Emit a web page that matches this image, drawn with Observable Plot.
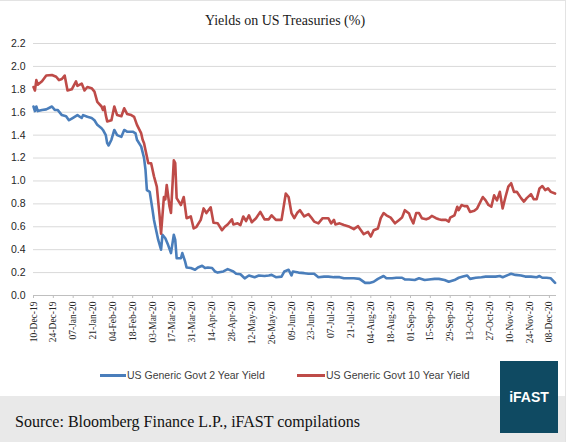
<!DOCTYPE html>
<html><head><meta charset="utf-8">
<script src="https://cdn.jsdelivr.net/npm/d3@7"></script>
<script src="https://cdn.jsdelivr.net/npm/@observablehq/plot@0.6"></script>
<style>
body{margin:0;background:#fff;}
#wrap{position:relative;width:570px;height:442px;overflow:hidden;background:#fff;}
#panel{position:absolute;left:0;top:0;width:566px;height:442px;border-top:1px solid #e3e3e3;border-right:1px solid #e3e3e3;box-sizing:border-box;}
#title{position:absolute;left:0;width:570px;top:12px;text-align:center;font-family:"Liberation Serif",serif;font-size:14px;line-height:18px;color:#1a1a1a;}
#chart{position:absolute;left:0;top:0;}
.lg{position:absolute;top:368px;font-family:"Liberation Sans",Arial,sans-serif;font-size:10.5px;line-height:14px;color:#404040;white-space:nowrap;}
.sw{position:absolute;top:374px;height:3px;}
#footer{position:absolute;left:0;top:396px;width:565px;height:46px;background:#e9e9e9;}
#source{position:absolute;left:15px;top:412px;font-family:"Liberation Serif",serif;font-size:16px;line-height:19px;color:#111;white-space:nowrap;}
#logo{position:absolute;left:500px;top:361px;width:58px;height:72px;background:#0f4a62;color:#fff;font-family:"Liberation Sans",Arial,sans-serif;font-weight:bold;font-size:14px;display:flex;align-items:center;justify-content:center;}
</style>
</head><body>
<div id="wrap">
  <div id="panel"></div>
  <div id="footer"></div>
  <div id="title"></div>
  <div id="chart"></div>
  <div class="sw" id="sw1"></div><div class="lg" id="lg1"></div>
  <div class="sw" id="sw2"></div><div class="lg" id="lg2"></div>
  <div id="source"></div>
  <div id="logo"></div>
</div>
<script>
const titleText = "Yields on US Treasuries (%)";
const sourceText = "Source: Bloomberg Finance L.P., iFAST compilations";
const logoText = "iFAST";
const seriesNames = ["US Generic Govt 2 Year Yield", "US Generic Govt 10 Year Yield"];
const seriesColors = ["#4a7ebb", "#be4b48"];
const yTicks = [0, 0.2, 0.4, 0.6, 0.8, 1.0, 1.2, 1.4, 1.6, 1.8, 2.0, 2.2];
const xDomain = ["2019-12-10", "2020-12-13"];
const xTicks = ["2019-12-10","2019-12-24","2020-01-07","2020-01-21","2020-02-04","2020-02-18","2020-03-03","2020-03-17","2020-03-31","2020-04-14","2020-04-28","2020-05-12","2020-05-26","2020-06-09","2020-06-23","2020-07-07","2020-07-21","2020-08-04","2020-08-18","2020-09-01","2020-09-15","2020-09-29","2020-10-13","2020-10-27","2020-11-10","2020-11-24","2020-12-08"];

const twoYear = [
["2019-12-10",1.65],["2019-12-11",1.61],["2019-12-12",1.65],["2019-12-13",1.61],["2019-12-16",1.62],["2019-12-19",1.625],["2019-12-23",1.65],["2019-12-25",1.62],["2019-12-27",1.62],["2019-12-30",1.575],
["2020-01-02",1.565],["2020-01-04",1.53],["2020-01-06",1.545],["2020-01-08",1.56],["2020-01-10",1.575],["2020-01-13",1.55],["2020-01-14",1.575],["2020-01-17",1.56],["2020-01-20",1.55],["2020-01-22",1.53],["2020-01-24",1.49],["2020-01-27",1.46],["2020-01-28",1.445],["2020-01-30",1.40],["2020-01-31",1.33],
["2020-02-01",1.31],["2020-02-03",1.36],["2020-02-05",1.445],["2020-02-07",1.40],["2020-02-10",1.385],["2020-02-12",1.445],["2020-02-14",1.43],["2020-02-18",1.43],["2020-02-20",1.415],["2020-02-21",1.36],["2020-02-24",1.30],["2020-02-26",1.20],["2020-02-27",1.10],["2020-02-28",0.92],
["2020-03-01",0.905],["2020-03-03",0.745],["2020-03-04",0.66],["2020-03-05",0.60],["2020-03-07",0.485],["2020-03-09",0.40],["2020-03-10",0.53],["2020-03-12",0.50],["2020-03-14",0.44],["2020-03-16",0.37],["2020-03-18",0.53],["2020-03-19",0.485],["2020-03-20",0.325],["2020-03-23",0.325],["2020-03-24",0.37],["2020-03-26",0.295],["2020-03-27",0.245],["2020-03-30",0.24],
["2020-04-02",0.225],["2020-04-04",0.245],["2020-04-07",0.26],["2020-04-09",0.24],["2020-04-11",0.245],["2020-04-14",0.24],["2020-04-16",0.21],["2020-04-18",0.20],["2020-04-22",0.21],["2020-04-25",0.23],["2020-04-29",0.21],
["2020-05-01",0.19],["2020-05-04",0.185],["2020-05-07",0.15],["2020-05-10",0.175],["2020-05-14",0.16],["2020-05-17",0.175],["2020-05-21",0.17],["2020-05-24",0.175],["2020-05-26",0.18],["2020-05-29",0.16],
["2020-06-02",0.165],["2020-06-04",0.21],["2020-06-07",0.225],["2020-06-09",0.175],["2020-06-10",0.21],["2020-06-14",0.20],["2020-06-18",0.195],["2020-06-21",0.19],["2020-06-25",0.19],["2020-06-28",0.16],
["2020-07-02",0.165],["2020-07-05",0.165],["2020-07-09",0.16],["2020-07-13",0.16],["2020-07-16",0.15],["2020-07-20",0.15],["2020-07-23",0.15],["2020-07-27",0.145],["2020-07-31",0.11],
["2020-08-03",0.11],["2020-08-06",0.12],["2020-08-09",0.145],["2020-08-13",0.17],["2020-08-15",0.15],["2020-08-19",0.15],["2020-08-22",0.155],["2020-08-26",0.155],["2020-08-28",0.14],["2020-08-31",0.14],
["2020-09-04",0.135],["2020-09-07",0.15],["2020-09-11",0.135],["2020-09-14",0.14],["2020-09-18",0.145],["2020-09-21",0.145],["2020-09-25",0.135],["2020-09-28",0.12],
["2020-10-02",0.135],["2020-10-05",0.155],["2020-10-08",0.165],["2020-10-11",0.175],["2020-10-13",0.145],["2020-10-17",0.155],["2020-10-21",0.16],["2020-10-24",0.165],["2020-10-28",0.165],["2020-10-31",0.165],
["2020-11-03",0.17],["2020-11-05",0.16],["2020-11-09",0.18],["2020-11-11",0.19],["2020-11-14",0.18],["2020-11-18",0.175],["2020-11-21",0.165],["2020-11-25",0.165],["2020-11-29",0.16],
["2020-12-01",0.17],["2020-12-03",0.155],["2020-12-06",0.155],["2020-12-09",0.15],["2020-12-12",0.11]
];

const tenYear = [
["2019-12-10",1.82],["2019-12-11",1.79],["2019-12-12",1.88],["2019-12-13",1.84],["2019-12-16",1.87],["2019-12-19",1.92],["2019-12-23",1.925],["2019-12-26",1.91],["2019-12-28",1.88],["2019-12-30",1.89],
["2020-01-01",1.92],["2020-01-03",1.79],["2020-01-06",1.80],["2020-01-09",1.87],["2020-01-10",1.83],["2020-01-13",1.85],["2020-01-15",1.79],["2020-01-17",1.82],["2020-01-20",1.81],["2020-01-22",1.78],["2020-01-24",1.69],["2020-01-27",1.65],["2020-01-28",1.62],["2020-01-29",1.65],["2020-01-30",1.575],["2020-01-31",1.52],
["2020-02-03",1.53],["2020-02-05",1.65],["2020-02-07",1.575],["2020-02-10",1.565],["2020-02-12",1.635],["2020-02-14",1.585],["2020-02-17",1.575],["2020-02-19",1.56],["2020-02-21",1.49],["2020-02-24",1.415],["2020-02-25",1.36],["2020-02-26",1.33],["2020-02-27",1.27],["2020-02-29",1.155],
["2020-03-02",1.155],["2020-03-04",1.04],["2020-03-06",0.95],["2020-03-08",0.69],["2020-03-09",0.54],["2020-03-11",0.86],["2020-03-12",0.84],["2020-03-13",0.965],["2020-03-15",0.775],["2020-03-16",0.72],["2020-03-18",1.18],["2020-03-19",1.155],["2020-03-20",0.85],["2020-03-23",0.79],["2020-03-25",0.86],["2020-03-27",0.675],["2020-03-30",0.69],
["2020-04-01",0.585],["2020-04-03",0.60],["2020-04-06",0.66],["2020-04-08",0.76],["2020-04-10",0.72],["2020-04-13",0.77],["2020-04-15",0.635],["2020-04-18",0.63],["2020-04-21",0.57],["2020-04-23",0.60],["2020-04-25",0.62],["2020-04-28",0.665],["2020-04-29",0.62],
["2020-05-02",0.63],["2020-05-04",0.615],["2020-05-06",0.69],["2020-05-08",0.65],["2020-05-10",0.70],["2020-05-12",0.64],["2020-05-15",0.675],["2020-05-18",0.73],["2020-05-21",0.665],["2020-05-24",0.665],["2020-05-26",0.70],["2020-05-29",0.66],
["2020-06-02",0.66],["2020-06-05",0.89],["2020-06-07",0.86],["2020-06-09",0.72],["2020-06-11",0.675],["2020-06-13",0.72],["2020-06-15",0.745],["2020-06-18",0.69],["2020-06-21",0.71],["2020-06-23",0.68],["2020-06-25",0.645],["2020-06-28",0.63],
["2020-07-01",0.675],["2020-07-05",0.675],["2020-07-07",0.63],["2020-07-09",0.66],["2020-07-10",0.62],["2020-07-13",0.63],["2020-07-16",0.615],["2020-07-20",0.60],["2020-07-23",0.58],["2020-07-26",0.605],["2020-07-28",0.57],["2020-07-30",0.535],
["2020-08-02",0.555],["2020-08-04",0.515],["2020-08-06",0.57],["2020-08-09",0.585],["2020-08-11",0.675],["2020-08-13",0.72],["2020-08-15",0.70],["2020-08-18",0.68],["2020-08-21",0.63],["2020-08-24",0.66],["2020-08-26",0.68],["2020-08-28",0.745],["2020-08-31",0.715],
["2020-09-01",0.68],["2020-09-03",0.63],["2020-09-05",0.72],["2020-09-07",0.72],["2020-09-09",0.675],["2020-09-12",0.665],["2020-09-14",0.675],["2020-09-16",0.695],["2020-09-19",0.675],["2020-09-21",0.665],["2020-09-23",0.66],["2020-09-26",0.66],["2020-09-28",0.645],["2020-09-29",0.68],
["2020-10-02",0.70],["2020-10-04",0.775],["2020-10-05",0.745],["2020-10-07",0.79],["2020-10-09",0.78],["2020-10-11",0.78],["2020-10-13",0.73],["2020-10-16",0.74],["2020-10-18",0.76],["2020-10-22",0.86],["2020-10-24",0.83],["2020-10-26",0.79],["2020-10-28",0.775],["2020-10-30",0.875],
["2020-11-01",0.83],["2020-11-03",0.905],["2020-11-05",0.76],["2020-11-07",0.86],["2020-11-09",0.95],["2020-11-11",0.98],["2020-11-13",0.905],["2020-11-15",0.905],["2020-11-18",0.85],["2020-11-20",0.82],["2020-11-22",0.85],["2020-11-25",0.885],["2020-11-27",0.84],["2020-11-29",0.84],
["2020-12-01",0.935],["2020-12-03",0.955],["2020-12-05",0.92],["2020-12-07",0.935],["2020-12-09",0.905],["2020-12-12",0.89]
];

const parse = d3.utcParse("%Y-%m-%d");
const toRows = arr => arr.map(([d, v]) => ({date: parse(d), value: v}));

const chart = Plot.plot({
  width: 570,
  height: 359,
  marginLeft: 33,
  marginRight: 14,
  marginTop: 43,
  marginBottom: 64,
  style: {background: "transparent", fontFamily: "'Liberation Sans', Arial, sans-serif", overflow: "visible"},
  x: {type: "utc", domain: xDomain.map(parse), label: null},
  y: {domain: [0, 2.2], label: null},
  marks: [
    Plot.gridY(yTicks.slice(1), {stroke: "#d9d9d9", strokeOpacity: 1}),
    Plot.ruleY([0], {stroke: "#bfbfbf"}),
    Plot.axisY(yTicks, {tickSize: 0, tickPadding: 8, label: null, tickFormat: d3.format(".1f"), fontSize: 10.5, fill: "#262626"}),
    Plot.axisX(xTicks.map(parse), {tickSize: 3, tickPadding: 3, label: null, tickRotate: -90, tickFormat: d3.utcFormat("%d-%b-%y"), fontSize: 9.5, fontFamily: "'Liberation Serif', serif", stroke: "#bfbfbf", fill: "#262626"}),
    Plot.line(toRows(twoYear), {x: "date", y: "value", stroke: seriesColors[0], strokeWidth: 2.6}),
    Plot.line(toRows(tenYear), {x: "date", y: "value", stroke: seriesColors[1], strokeWidth: 2.6})
  ]
});
document.getElementById("chart").appendChild(chart);

document.getElementById("title").textContent = titleText;
document.getElementById("source").textContent = sourceText;
document.getElementById("logo").textContent = logoText;
const sw1 = document.getElementById("sw1"), sw2 = document.getElementById("sw2");
const lg1 = document.getElementById("lg1"), lg2 = document.getElementById("lg2");
sw1.style.left = "100px"; sw1.style.width = "26px"; sw1.style.background = seriesColors[0];
lg1.style.left = "127px"; lg1.textContent = seriesNames[0];
sw2.style.left = "297px"; sw2.style.width = "28px"; sw2.style.background = seriesColors[1];
lg2.style.left = "326px"; lg2.textContent = seriesNames[1];
</script>
</body></html>
